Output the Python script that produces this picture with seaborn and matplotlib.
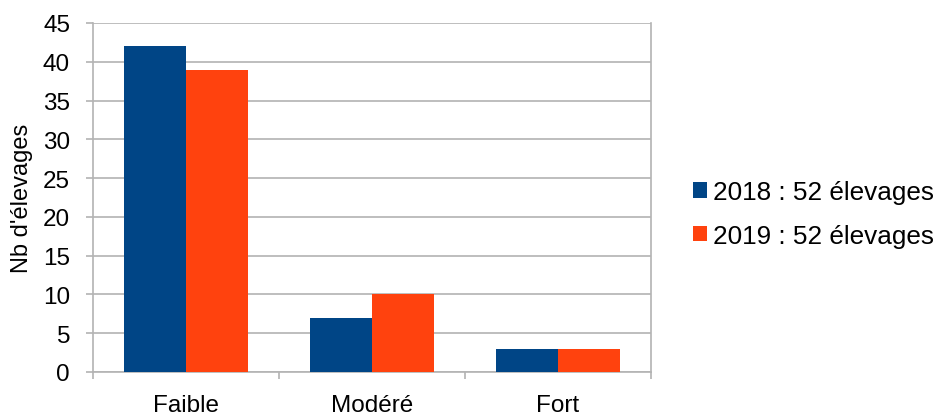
import matplotlib
matplotlib.use("Agg")
import matplotlib.pyplot as plt
from matplotlib.ticker import FixedLocator
import seaborn as sns
import pandas as pd

categories = ["Faible", "Modéré", "Fort"]
series_names = ["2018 : 52 élevages", "2019 : 52 élevages"]
values_2018 = [42, 7, 3]
values_2019 = [39, 10, 3]
colors = ["#004586", "#ff420e"]
y_ticks = [0, 5, 10, 15, 20, 25, 30, 35, 40, 45]

df = pd.DataFrame({
    "niveau": categories * 2,
    "serie": [series_names[0]] * 3 + [series_names[1]] * 3,
    "nb": values_2018 + values_2019,
})

sns.set_theme(style="white")
plt.rcParams["font.family"] = ["Liberation Sans", "DejaVu Sans"]
plt.rcParams["text.color"] = "black"

fig = plt.figure(figsize=(9.41, 4.14), dpi=100)
ax = fig.add_axes([93 / 941, 41 / 414, 558 / 941, 349 / 414])

sns.barplot(data=df, x="niveau", y="nb", hue="serie", order=categories,
            hue_order=series_names, palette=colors, width=0.667,
            saturation=1, ax=ax, zorder=3, linewidth=0)

grid_c = "#b3b3b3"
ax.set_ylim(0, 45)
ax.set_xlim(-0.5, 2.5)
ax.set_yticks(y_ticks)
ax.yaxis.grid(True, color=grid_c, linewidth=1.2, zorder=0)
ax.set_axisbelow(True)
for side in ["left", "right", "bottom"]:
    ax.spines[side].set_visible(True)
    ax.spines[side].set_color(grid_c)
    ax.spines[side].set_linewidth(1.2)
ax.spines["top"].set_visible(False)

ax.tick_params(axis="y", which="major", left=True, length=5, width=1.2,
               color=grid_c, labelsize=17.5, labelcolor="black", pad=11.5)
ax.tick_params(axis="x", which="major", bottom=False, length=0,
               labelsize=17.5, labelcolor="black", pad=15.5)
ax.xaxis.set_minor_locator(FixedLocator([-0.5, 0.5, 1.5, 2.5]))
ax.tick_params(axis="x", which="minor", bottom=True, length=5, width=1.2,
               color=grid_c)

ax.set_xlabel("")
ax.set_ylabel("Nb d'élevages", fontsize=17, color="black", labelpad=7)

ax.legend(loc="center left", bbox_to_anchor=(693 / 941, 1 - 215 / 414),
          bbox_transform=fig.transFigure, frameon=False, borderpad=0,
          borderaxespad=0, fontsize=18.8, handlelength=0.54, handleheight=0.54,
          handletextpad=0.23, labelspacing=0.75)

fig.savefig("out.png", dpi=100)
